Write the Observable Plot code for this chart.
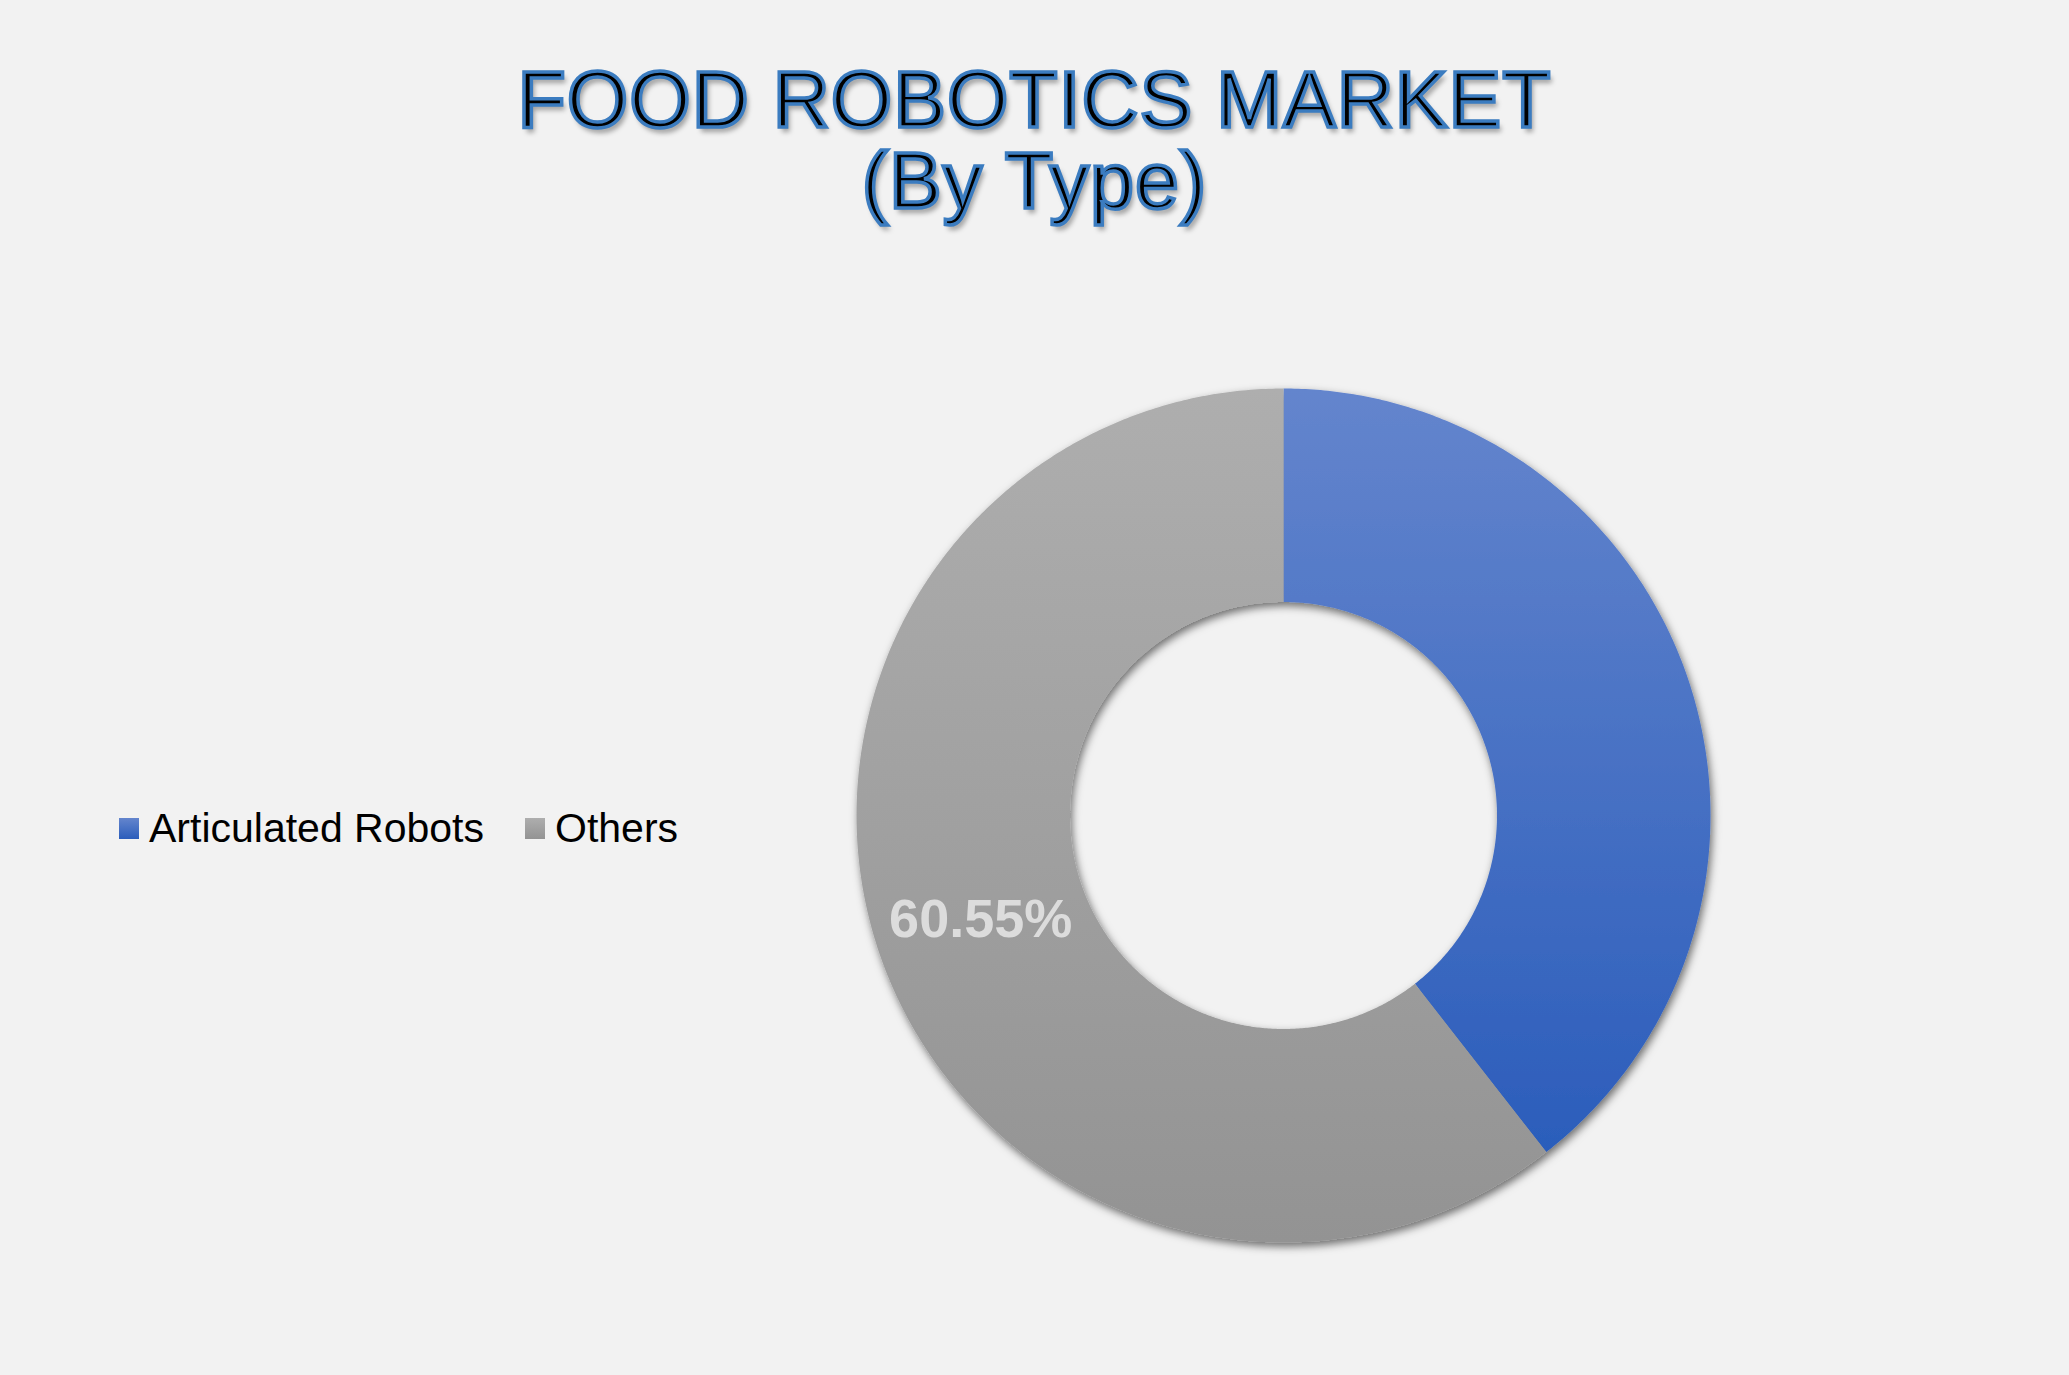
<!DOCTYPE html>
<html>
<head>
<meta charset="utf-8">
<script src="https://cdn.jsdelivr.net/npm/d3@7"></script>
<script src="https://cdn.jsdelivr.net/npm/@observablehq/plot@0.6"></script>
<style>
  html, body { margin: 0; padding: 0; background: #f2f2f2; }
  #page { position: relative; width: 2069px; height: 1375px; overflow: hidden; background: #f2f2f2; font-family: "Liberation Sans", Arial, sans-serif; }
  #title { height: 270px; box-sizing: border-box; padding-top: 59px; text-align: center; font-size: 79px; line-height: 81px; color: #000; letter-spacing: 1px;
    -webkit-text-stroke: 3.5px #3b7cc0; text-shadow: 3px 5px 5px rgba(0,0,0,0.35); }
  #legend { position: absolute; left: 119px; top: 804px; display: flex; align-items: center; font-size: 41px; line-height: 48px; color: #000; }
  .sw { display: flex; align-items: center; }
  .sw + .sw { margin-left: 41px; }
  .box { width: 20px; height: 21px; margin-right: 10px; }
</style>
</head>
<body>
<div id="page">
  <div id="title"></div>
  <div id="chart"></div>
  <div id="legend"></div>
</div>
<script>
// ---- data ----
const titleLines = ["FOOD ROBOTICS MARKET", "(By Type)"];
const categories = ["Articulated Robots", "Others"];
const shares = [39.45, 60.55];
const sliceLabels = ["", "60.55%"];
const gradientTops = ["#6485cd", "#aeaeae"];
const gradientBottoms = ["#2b5dbb", "#939393"];

// ---- layout ----
const W = 2069, H = 1375 - 270;
const cx = 1283, cy = 815 - 270, R = 427;
const hole = 0.5;

document.getElementById("title").innerHTML = titleLines.map(t => `<div>${t}</div>`).join("");

const rows = categories.map((c, i) => ({type: c, share: shares[i], label: sliceLabels[i]}));
const arcs = d3.pie().sort(null).value(d => d.share)(rows);

// polygon outline of each ring slice (outer arc then inner arc back)
const outline = [];
for (const a of arcs) {
  const span = a.endAngle - a.startAngle;
  const n = Math.max(2, Math.ceil(span / (Math.PI / 360)));
  for (let k = 0; k <= n; k++) {
    const t = a.startAngle + span * k / n;
    outline.push({type: a.data.type, x: Math.sin(t), y: -Math.cos(t)});
  }
  for (let k = n; k >= 0; k--) {
    const t = a.startAngle + span * k / n;
    outline.push({type: a.data.type, x: hole * Math.sin(t), y: -hole * Math.cos(t)});
  }
}
const labelRows = arcs.filter(a => a.data.label).map(a => {
  const m = (a.startAngle + a.endAngle) / 2, r = (1 + hole) / 2;
  return {label: a.data.label, x: r * Math.sin(m), y: -r * Math.cos(m)};
});

const gradIds = categories.map((c, i) => "grad" + i);

function defs() {
  const d = d3.create("svg:defs");
  categories.forEach((c, i) => {
    const g = d.append("linearGradient").attr("id", gradIds[i]).attr("x1", 0).attr("y1", 0).attr("x2", 0).attr("y2", 1);
    g.append("stop").attr("offset", "0%").attr("stop-color", gradientTops[i]);
    g.append("stop").attr("offset", "100%").attr("stop-color", gradientBottoms[i]);
  });
  const f = d.append("filter").attr("id", "shadow").attr("x", "-10%").attr("y", "-10%").attr("width", "125%").attr("height", "130%");
  f.append("feDropShadow").attr("dx", 2).attr("dy", 4).attr("stdDeviation", 4.5)
    .attr("flood-color", "#000").attr("flood-opacity", 0.55);
  return d.node();
}

const chart = Plot.plot({
  width: W,
  height: H,
  margin: 0,
  style: {background: "#f2f2f2", overflow: "visible"},
  x: {domain: [-1, 1], range: [cx - R, cx + R], axis: null},
  y: {domain: [-1, 1], range: [cy - R, cy + R], axis: null},
  color: {domain: categories, range: gradIds.map(id => `url(#${id})`)},
  marks: [
    defs,
    Plot.line(outline, {x: "x", y: "y", z: "type", fill: "type", stroke: "none", curve: "linear-closed"}),
    Plot.text(labelRows, {x: "x", y: "y", text: "label", fill: "#dcdcdc", fontSize: 54, fontWeight: "bold",
      fontFamily: "Liberation Sans, Arial, sans-serif", textAnchor: "middle", lineAnchor: "middle"})
  ]
});
d3.select(chart).select('g[aria-label="line"]').attr("filter", "url(#shadow)");
document.getElementById("chart").appendChild(chart);

// legend from the same categories
const legendColors = categories.map((c, i) => `linear-gradient(${gradientTops[i]}, ${gradientBottoms[i]})`);
document.getElementById("legend").innerHTML = categories.map((c, i) =>
  `<span class="sw"><span class="box" style="background:${legendColors[i]}"></span>${c}</span>`).join("");
</script>
</body>
</html>
